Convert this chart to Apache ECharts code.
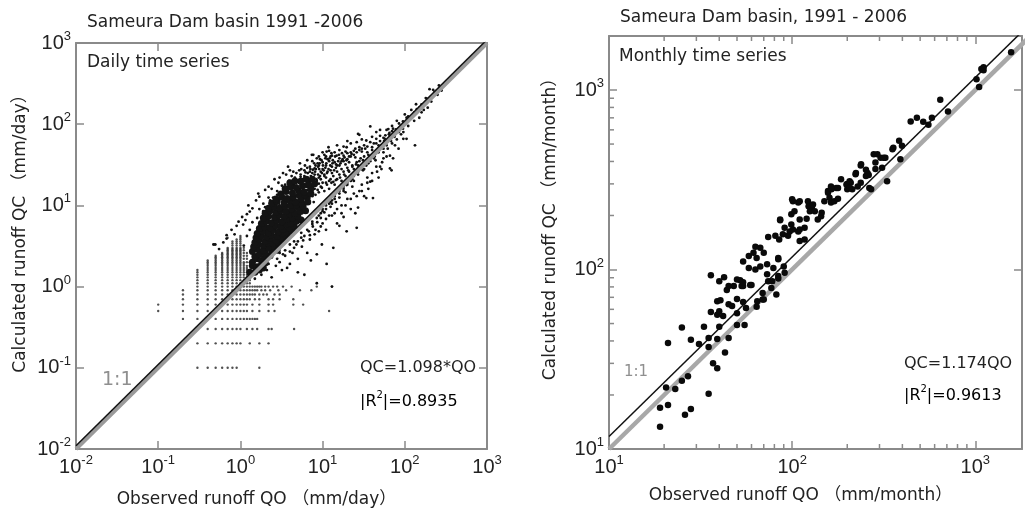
<!DOCTYPE html>
<html>
<head>
<meta charset="utf-8">
<script src="https://cdn.jsdelivr.net/npm/echarts@6/dist/echarts.min.js"></script>
<style>
  html, body { margin: 0; padding: 0; background: #fff; }
  #chart { width: 1025px; height: 513px; }
</style>
</head>
<body>
<div id="chart"></div>
<script>
// ---- daily series (left panel) ----
// quantized low-flow rows: [QC, [QO ...]]
const dailyLowRows = [
  [0.1, [0.3, 0.4, 0.5, 0.6, 0.7, 0.8, 0.9, 1.7]],
  [0.2, [0.3, 0.4, 0.5, 0.6, 0.7, 0.8, 0.9, 1.0, 1.3, 1.7, 2.2]],
  [0.3, [0.3, 0.4, 0.5, 0.6, 0.7, 0.8, 0.9, 1.0, 1.2, 1.4, 1.6, 2.2, 2.4, 4.5]],
  [0.4, [0.2, 0.3, 0.4, 0.5, 0.6, 0.7, 0.8, 0.9, 1.0, 1.1, 1.2, 1.3, 1.4, 1.5, 1.6]],
  [0.5, [0.1, 0.2, 0.3, 0.4, 0.5, 0.6, 0.7, 0.8, 0.9, 1.0, 1.1, 1.2, 1.4, 1.7, 2.2, 2.6, 12]],
  [0.6, [0.1, 0.2, 0.3, 0.4, 0.5, 0.6, 0.7, 0.8, 0.9, 1.0, 1.1, 1.2, 1.4, 1.7, 2.2, 2.5, 4.4, 5.8]],
  [0.7, [0.2, 0.3, 0.4, 0.5, 0.6, 0.7, 0.8, 0.9, 1.0, 1.1, 1.2, 1.3, 1.5, 1.7, 2.2, 2.5, 3.0, 4.4]],
  [0.8, [0.2, 0.3, 0.4, 0.5, 0.6, 0.7, 0.8, 0.9, 1.0, 1.1, 1.2, 1.3, 1.4, 1.5, 1.7, 1.9, 2.1, 2.6, 3.0]],
  [0.9, [0.2, 0.3, 0.4, 0.5, 0.6, 0.7, 0.8, 0.9, 1.0, 1.1, 1.2, 1.3, 1.4, 1.5, 1.6, 1.8, 2.0, 2.3, 2.9, 3.6, 5.3, 7.3]],
  [1.0, [0.3, 0.4, 0.5, 0.6, 0.7, 0.8, 0.9, 1.0, 1.1, 1.2, 1.3, 1.4, 1.5, 1.6, 1.7, 1.8, 2.0, 2.2, 2.5, 2.8, 3.3, 4.2, 8.5, 13]]
];
// quantized columns above QC = 1: [QO, [QC ...]]
const dailyStripes = [
  [0.3, [1.1, 1.2, 1.3, 1.4, 1.5, 1.6]],
  [0.4, [1.1, 1.2, 1.3, 1.4, 1.5, 1.6, 1.7, 1.8, 1.9, 2.0, 2.1]],
  [0.5, [1.1, 1.2, 1.3, 1.4, 1.5, 1.6, 1.7, 1.8, 1.9, 2.0, 2.1, 2.2, 2.3, 2.4, 3.3]],
  [0.6, [1.1, 1.2, 1.3, 1.4, 1.5, 1.6, 1.7, 1.8, 1.9, 2.0, 2.1, 2.2, 2.3, 2.4, 2.5, 2.6]],
  [0.7, [1.1, 1.2, 1.3, 1.4, 1.5, 1.6, 1.7, 1.8, 1.9, 2.0, 2.1, 2.2, 2.3, 2.4, 2.5, 2.6, 2.7, 2.8, 2.9, 3.0, 4.0]],
  [0.8, [1.1, 1.2, 1.3, 1.4, 1.5, 1.6, 1.7, 1.8, 1.9, 2.0, 2.1, 2.2, 2.3, 2.4, 2.5, 2.6, 2.7, 2.8, 2.9, 3.0, 3.2, 3.4, 3.6]],
  [0.9, [1.1, 1.2, 1.3, 1.4, 1.5, 1.6, 1.7, 1.8, 1.9, 2.0, 2.1, 2.2, 2.3, 2.4, 2.5, 2.6, 2.7, 2.8, 2.9, 3.0, 3.2, 3.4, 3.6, 3.8]],
  [1.0, [1.1, 1.2, 1.3, 1.4, 1.5, 1.6, 1.7, 1.8, 1.9, 2.0, 2.1, 2.2, 2.3, 2.4, 2.5, 2.6, 2.7, 2.8, 2.9, 3.0, 3.2, 3.4, 3.6, 3.8, 4.0, 4.2]],
  [1.1, [1.1, 1.2, 1.3, 1.4, 1.5, 1.6, 1.7, 1.8, 1.9, 2.0, 2.2, 2.4, 2.6, 2.8, 3.0]],
  [1.2, [1.1, 1.2, 1.3, 1.4, 1.5, 1.6, 1.7, 1.8, 2.0, 2.2, 2.4, 2.6]],
  [1.3, [1.1, 1.2, 1.3, 1.4, 1.5, 1.6, 1.8, 2.0]]
];
// the near-black core of the daily cloud [QO, QC]
const dailyCore = [
  [1.3, 1.5], [1.5, 1.5], [1.7, 1.6], [1.9, 1.7],
  [1.4, 1.8], [1.6, 1.75], [1.8, 1.85], [2.0, 1.95],
  [1.4, 2.0], [1.6, 2.2], [1.8, 2.1], [2.0, 2.3], [2.3, 2.4],
  [1.5, 2.35], [1.7, 2.5], [2.0, 2.6], [2.4, 2.7], [2.8, 2.8],
  [1.4, 2.7], [1.6, 2.9], [1.9, 2.8], [2.2, 3.0], [2.6, 3.1], [3.0, 3.3],
  [1.45, 3.1], [1.65, 3.3], [1.9, 3.2], [2.2, 3.4], [2.5, 3.4], [2.9, 3.5], [3.3, 3.7],
  [1.5, 3.5], [1.7, 3.8], [2.0, 3.6], [2.3, 3.9], [2.7, 3.7], [3.1, 4.0], [3.6, 4.2],
  [1.55, 4.0], [1.8, 4.2], [2.1, 4.1], [2.4, 4.3], [2.8, 4.2], [3.2, 4.5], [3.7, 4.7], [4.2, 4.9],
  [1.6, 4.5], [1.9, 4.8], [2.2, 4.6], [2.5, 5.0], [2.9, 4.7], [3.3, 5.1], [3.9, 5.3], [4.5, 5.6],
  [1.7, 5.2], [2.0, 5.4], [2.3, 5.3], [2.7, 5.6], [3.1, 5.5], [3.6, 5.9], [4.1, 6.0], [4.8, 6.4], [5.5, 6.6],
  [1.8, 6.0], [2.1, 6.4], [2.4, 6.1], [2.8, 6.5], [3.2, 6.3], [3.7, 6.8], [4.3, 7.0], [5.0, 7.3],
  [1.9, 7.0], [2.2, 7.4], [2.6, 7.2], [3.0, 7.6], [3.4, 7.3], [4.0, 7.9], [4.6, 8.0], [5.4, 8.4], [6.2, 8.6],
  [2.0, 8.0], [2.3, 8.6], [2.7, 8.2], [3.1, 8.8], [3.6, 8.4], [4.2, 9.0], [5.0, 9.4], [5.8, 9.8],
  [2.2, 9.2], [2.6, 9.6], [3.0, 9.3], [3.5, 9.8], [4.1, 10], [4.8, 10.2], [5.6, 10.6], [6.6, 11],
  [2.4, 10.6], [2.8, 11.2], [3.4, 10.7], [4.0, 11.5], [4.7, 11.0], [5.5, 12], [6.5, 12.5],
  [2.7, 12.0], [3.2, 12.6], [3.7, 12.2], [4.4, 12.8], [5.2, 13.2], [6.1, 13.5], [7.2, 14],
  [3.1, 13.8], [3.6, 14.8], [4.3, 14.2], [5.1, 15.2], [6.0, 14.6], [7.2, 16],
  [3.5, 16], [4.1, 17], [4.8, 16.5], [5.7, 17.5], [6.7, 18], [8, 18.5],
  [4.0, 19], [4.6, 20], [5.4, 19.8], [6.3, 21], [7.5, 21]
];
// scattered daily points [QO, QC]
const dailyCloud = [
  [0.47, 3.3], [0.49, 3.3], [0.68, 4.3], [0.68, 3.9], [0.78, 5.0], [0.55, 2.9], [0.62, 3.5], [0.85, 4.4], [0.9, 5.6],
  [1.08, 5.8], [0.95, 6.3], [1.25, 10], [1.05, 7.2], [1.15, 6.6], [1.3, 8.4], [1.2, 7.8], [1.4, 9.2], [1.55, 11.5],
  [1.7, 12.8], [1.9, 10.5], [1.65, 14], [2.0, 15.5], [2.2, 17], [2.4, 16], [2.6, 21], [2.9, 19], [3.0, 22], [3.3, 25],
  [3.2, 17.5], [3.6, 24], [4.0, 27], [4.4, 26], [3.8, 30], [4.8, 25], [5.3, 33], [5.5, 28], [6.1, 31], [6.5, 36],
  [7.4, 42], [7.7, 42], [8.5, 38], [9.2, 33], [10, 45], [11.2, 46], [11.8, 52], [12.5, 40], [14.8, 41], [15, 55],
  [16, 48], [18, 53], [19.6, 52], [20, 62], [22, 58], [26, 60], [27, 76], [28, 74], [30, 65], [33, 50], [34, 63],
  [38, 94], [40, 70], [45, 80], [50, 85], [60, 85], [58, 73], [63, 87], [70, 95], [80, 110], [100, 132], [105, 120],
  [120, 150], [137, 176], [140, 153], [150, 160], [180, 210], [200, 270], [221, 265], [240, 255], [260, 300], [270, 280],
  [4.5, 14], [5.0, 16], [5.5, 19], [6.0, 18], [6.6, 22], [7.0, 20], [7.5, 25], [8.0, 24], [8.3, 28], [9.0, 22],
  [9.5, 26], [10, 28], [10.5, 24], [11, 31], [12, 35], [12.5, 27], [13, 30], [14, 34], [15, 31], [16, 38], [17, 35],
  [18, 41], [20, 44], [22, 40], [24, 47], [25, 39], [28, 52], [30, 46], [32, 55], [35, 53], [38, 60], [42, 58],
  [45, 66], [50, 72], [55, 68], [65, 78], [72, 88], [85, 102], [95, 108], [110, 125], [130, 140], [160, 175],
  [190, 205], [230, 250], [5.2, 11], [6.2, 13], [7.2, 15], [8.2, 13.5], [9.5, 17], [11, 19], [12.5, 21], [14, 18],
  [16, 24], [18, 26], [20, 29], [23, 31], [26, 34], [29, 38], [6.8, 12], [5.8, 9.5], [7.8, 11], [9, 14.5], [10.5, 15],
  [12, 16], [13.5, 19.5], [15, 21], [17, 20], [19, 23], [21, 26], [24, 28], [27, 31], [31, 36], [36, 42], [40, 48],
  [48, 55], [56, 62], [66, 72], [78, 86], [90, 96], [3.5, 12], [4.2, 16], [3.9, 20], [4.6, 22], [5.4, 24], [6.0, 27],
  [7.0, 30], [7.9, 33], [8.8, 30], [3.2, 14], [2.8, 15], [2.5, 12.5], [3.0, 10], [2.3, 11.5], [1.9, 8.5],
  [5.5, 13], [6.5, 15.5], [7.5, 17.5], [8.5, 20], [9.5, 21], [10.5, 23], [11.5, 26], [13, 25], [14.5, 29], [16, 31],
  [18, 35], [20, 37], [22, 45], [25, 50], [8, 16], [9, 18.5], [10, 19], [11, 22], [12, 20], [13.5, 23], [15, 26],
  [17, 28], [19, 32], [21, 34], [6, 23], [7, 26], [8, 28.5], [9, 31], [10, 34], [11.5, 37], [13, 41], [14, 45],
  [5, 20], [4.5, 18], [3.8, 17], [4.2, 23], [5.2, 27], [6.5, 29], [7.5, 35], [9, 40], [10.5, 42], [12, 47],
  [3.5, 18], [2.8, 13.5], [2.2, 12.5], [2.0, 9.5], [1.7, 9], [1.6, 7], [1.4, 6.2], [1.3, 5], [1.2, 4.2], [1.1, 3.2],
  [5.8, 16], [6.3, 17], [6.9, 19], [7.3, 18], [7.8, 22], [8.4, 21], [8.8, 24], [9.3, 23], [9.8, 25], [10.3, 27],
  [10.8, 29], [11.3, 25], [11.8, 28], [12.4, 31], [13.2, 33], [13.8, 27], [14.6, 32], [15.5, 35], [16.5, 33],
  [17.5, 37], [18.5, 39], [19.5, 36], [21, 40], [22.5, 43], [24, 42], [26, 45], [28, 48], [30, 50], [6.2, 20],
  [7.2, 23], [8.1, 26], [9.1, 28], [10.1, 31], [11.1, 33], [12.2, 38], [13.3, 36], [14.2, 40], [15.8, 42],
  [17.2, 44], [19, 46], [5.6, 21], [6.6, 25], [7.6, 27.5], [8.7, 33], [9.7, 36], [11, 40], [12.8, 44], [4.8, 17.5],
  [5.4, 22.5], [6.2, 25.5], [7.1, 28], [8.2, 31], [9.3, 37], [10.8, 38], [7.5, 13], [8.7, 15.5], [9.8, 16.5],
  [11.3, 18], [12.8, 19], [14.5, 20.5], [16.3, 22], [18.3, 24], [20.5, 27], [23, 30], [25.5, 32], [28, 35], [32, 40],
  [35, 45], [40, 52], [45, 58], [50, 62], [57, 66], [64, 75], [70, 82],
  [1.5, 1.25], [1.8, 1.4], [2.1, 1.6], [2.4, 1.3], [2.7, 1.8], [3.0, 2.0], [3.2, 1.6], [3.7, 1.7], [3.5, 2.4],
  [4.0, 1.9], [4.3, 2.6], [4.5, 3.0], [5.0, 2.2], [5.0, 3.6], [5.6, 3.1], [6.0, 4.2], [6.5, 2.6], [6.8, 4.8],
  [7.0, 3.8], [7.6, 5.5], [8.0, 4.4], [8.5, 2.5], [8.6, 6.2], [9.0, 4.8], [9.5, 7.0], [10, 6.0], [10.5, 8.2],
  [11, 5.0], [11.2, 1.9], [12, 7.5], [12.5, 9.6], [13.5, 3.0], [14, 8.0], [14.5, 11], [15, 6.0], [16, 12.5],
  [17, 10], [18, 7.2], [19, 14.5], [19.6, 4.8], [19.6, 17.8], [20, 12], [22, 9.0], [23, 17], [24, 14], [26, 5.3],
  [27, 9.4], [28, 15], [30, 18], [32, 13], [34, 12.3], [35, 22], [38, 19.6], [40, 25], [41, 12.3], [44, 36], [45, 30],
  [48, 22], [53, 34], [55, 38], [55, 45], [60, 40], [66, 28.5], [66, 41], [69, 27], [70, 58], [72, 38], [76, 55],
  [80, 65], [84, 50], [90, 75], [96, 66], [96, 80], [105, 66], [110, 95], [130, 110], [133, 55], [150, 120],
  [170, 150], [190, 160], [8.5, 1.1], [13, 1.0], [6.0, 1.4], [5.0, 1.5], [7.2, 2.1], [9.8, 3.3], [16, 5.6], [25, 8],
  [36, 16], [50, 30], [62, 50], [42, 38], [32, 28], [24, 20], [18, 15], [13, 10.5], [10, 8.5], [7.5, 6.3], [5.5, 4.6],
  [4.0, 3.3], [3.0, 2.6], [2.2, 1.9], [11.5, 12], [15.5, 16], [21, 22], [29, 30], [38, 40], [52, 55], [75, 77],
  [100, 105], [140, 145], [200, 205], [260, 270], [300, 310], [280, 260], [250, 230], [210, 190], [160, 140],
  [3.5, 2.8], [4.5, 3.6], [5.5, 4], [6.5, 5], [7.5, 5.9], [8.5, 7], [9.5, 8], [11, 9], [12.5, 11], [14, 12],
  [16, 14], [18, 16], [20, 18], [23, 21], [27, 24], [31, 27], [36, 33], [2.8, 2.2], [3.3, 2.5], [4.0, 2.7],
  [4.8, 3.3], [5.8, 3.7], [7.0, 4.3], [8.2, 5], [9.5, 5.5], [11, 6.8], [13, 7.5], [15, 9], [17, 8], [19, 10],
  [22, 12], [26, 13], [30, 15], [35, 19], [40, 20], [46, 26], [52, 28],
  [9, 7.5], [10, 9], [11, 10], [12, 10.5], [13, 11.5], [14, 13], [16, 15], [18, 17], [20, 19], [22, 20], [24, 23],
  [27, 26], [30, 28], [34, 31], [38, 35], [43, 40], [48, 45], [55, 50], [60, 55], [68, 62], [75, 70], [85, 80], [95, 88]
];
const dailyOneToOne = [[0.01, 0.01], [1000, 1000]];
const dailyFitLine = [[0.01, 0.01098], [1000, 1098]];

// ---- monthly series (right panel) [QO, QC] ----
const monthlyPoints = [
  [19, 13.3], [19, 17], [21, 17.6], [26, 15.5], [28, 16.7], [20.5, 22], [23, 21.6], [25, 24], [27, 25.4], [35, 20.3],
  [37, 30], [39, 28.2], [21, 39], [25, 47.6], [28, 40.6], [31, 38.5], [35, 37], [33, 48], [35, 41.5], [39, 41],
  [43, 34.5], [45, 41.5], [40, 48], [36, 58], [39, 56], [40, 58.5], [42, 55], [39, 66.5], [40.6, 67.5], [44, 77],
  [40, 86], [45, 64], [47, 62.7], [50, 68.6], [50, 57], [50, 49], [55, 49], [54, 66], [56, 61], [54, 81], [48, 81],
  [52, 87], [60, 82], [64, 62], [64.5, 66.5], [69, 68], [69, 74], [74, 86], [77, 79], [36, 93], [42.5, 90.6],
  [45, 81], [50, 88], [53, 81], [59, 82], [54, 85], [54, 111], [58, 119], [61.5, 124], [64, 116], [67, 132],
  [63, 134], [58, 102], [63, 100], [67, 104], [73, 107], [79, 102], [73, 94], [84, 92], [91, 96], [84, 89], [78, 86],
  [82, 72.5], [70, 68], [84, 114], [90, 104], [70, 124], [84, 116], [74, 152], [81, 154], [85, 147], [89, 157],
  [95, 154], [86, 190], [91, 171], [99, 178], [97, 163], [101, 167], [108, 163], [110, 144], [99, 203], [103, 211],
  [110, 190], [117, 171], [101, 240], [108, 236], [122, 240], [123, 225], [128, 222], [130, 230], [125, 211],
  [133, 211], [120, 192], [138, 190], [144, 198], [150, 240], [163, 236], [157, 274], [163, 290], [174, 285],
  [170, 240], [185, 318], [200, 300], [209, 304], [200, 280], [213, 280], [228, 290], [237, 304], [222, 339],
  [237, 380], [253, 360], [262, 336], [279, 439], [100, 246], [110, 240], [86, 188], [117, 147], [110, 167],
  [145, 207], [157, 268], [164, 280], [160, 251], [178, 248], [178, 285], [198, 298], [206, 310], [206, 285],
  [223, 345], [238, 386], [253, 332], [264, 285], [270, 280], [285, 395], [304, 420], [310, 369], [285, 363],
  [323, 420], [353, 468], [384, 521], [390, 412], [330, 310], [398, 490], [444, 668], [480, 700], [520, 665],
  [580, 700], [555, 640], [644, 883], [710, 760], [1016, 1150], [1050, 1040], [1080, 1310], [1110, 1290],
  [1110, 1340], [1570, 1625], [292, 439], [316, 420], [258, 345], [357, 477]
];
const monthlyOneToOne = [[10, 10], [2000, 2000]];
const monthlyFitLine = [[10, 11.74], [2000, 2348]];
const monthlyMinorTicks = [20, 30, 40, 50, 60, 70, 80, 90, 200, 300, 400, 500, 600, 700, 800, 900];

const dailyRange = [0.01, 1000];
const monthlyXRange = [10, 1800];
const monthlyYRange = [10, 2000];

// ---- build point lists ----
const dailyGridPts = [];
dailyLowRows.forEach(function (r) { r[1].forEach(function (x) { dailyGridPts.push([x, r[0]]); }); });
dailyStripes.forEach(function (c) { c[1].forEach(function (y) { dailyGridPts.push([c[0], y]); }); });

const TXT = 'DejaVu Sans, "Noto Sans CJK JP", sans-serif';
const AXIS_GREY = '#8a8a8a';

function powLabel(v) {
  const e = Math.log10(v);
  if (Math.abs(e - Math.round(e)) > 1e-6) return '';
  return '{b|10}{s|' + Math.round(e) + '}';
}
const powRich = {
  b: { fontSize: 20, fontFamily: 'Liberation Sans', color: '#222', lineHeight: 26 },
  s: { fontSize: 13, fontFamily: 'Liberation Sans', color: '#222', verticalAlign: 'top', lineHeight: 12 }
};
const eqRich = {
  n: { fontSize: 16, fontFamily: 'DejaVu Sans', color: '#222', lineHeight: 24 },
  s: { fontSize: 10, fontFamily: 'DejaVu Sans', color: '#222', verticalAlign: 'top', lineHeight: 10 }
};

function logAxis(range, gridIndex, position, opts) {
  opts = opts || {};
  return {
    type: 'log', logBase: 10, gridIndex: gridIndex, position: position,
    min: range[0], max: range[1],
    splitLine: { show: false },
    axisLine: { show: true, onZero: false, lineStyle: { color: AXIS_GREY, width: 2 } },
    axisTick: { show: true, inside: true, length: 8, lineStyle: { color: AXIS_GREY, width: 1.5 } },
    axisLabel: opts.labels ? { show: true, formatter: powLabel, rich: powRich, margin: 5 } : { show: false },
    name: opts.name || '', nameLocation: 'middle', nameGap: opts.nameGap || 0,
    nameTextStyle: { fontFamily: TXT, fontSize: 17, color: '#222', padding: opts.namePad || 0 }
  };
}

const chart = echarts.init(document.getElementById('chart'), null, { renderer: 'canvas' });

function tickSeries(data, xi, yi, size, offset) {
  return {
    type: 'scatter', xAxisIndex: xi, yAxisIndex: yi, data: data, symbol: 'rect',
    symbolSize: size, symbolOffset: offset, clip: false, silent: true,
    itemStyle: { color: AXIS_GREY, opacity: 1 }, z: 3
  };
}

const minorBottom = monthlyMinorTicks.map(function (v) { return [v, monthlyYRange[0]]; });
const minorTop = monthlyMinorTicks.map(function (v) { return [v, monthlyYRange[1]]; });
const minorLeft = monthlyMinorTicks.map(function (v) { return [monthlyXRange[0], v]; });

chart.setOption({
  animation: false,
  grid: [
    { left: 76, top: 43, width: 411, height: 411 },
    { left: 609, top: 36, width: 418, height: 413 }
  ],
  xAxis: [
    logAxis(dailyRange, 0, 'bottom', { labels: true, name: 'Observed runoff QO （mm/day）', nameGap: 42, namePad: [0, 50, 0, 0] }),
    logAxis(dailyRange, 0, 'top'),
    logAxis(monthlyXRange, 1, 'bottom', { labels: true, name: 'Observed runoff QO （mm/month）', nameGap: 38, namePad: [0, 30, 0, 0] }),
    logAxis(monthlyXRange, 1, 'top')
  ],
  yAxis: [
    logAxis(dailyRange, 0, 'left', { labels: true, name: 'Calculated runoff QC （mm/day）', nameGap: 47, namePad: [0, 0, 0, 33] }),
    logAxis(dailyRange, 0, 'right'),
    logAxis(monthlyYRange, 1, 'left', { labels: true, name: 'Calculated runoff QC （mm/month）', nameGap: 50, namePad: [0, 0, 0, 35] }),
    logAxis(monthlyYRange, 1, 'right')
  ],
  series: [
    { type: 'scatter', xAxisIndex: 0, yAxisIndex: 0, data: dailyGridPts, symbol: 'circle', symbolSize: 2.4,
      itemStyle: { color: '#333', opacity: 0.85 }, silent: true },
    { type: 'scatter', xAxisIndex: 0, yAxisIndex: 0, data: dailyCloud, symbol: 'circle', symbolSize: 2.8,
      itemStyle: { color: '#111', opacity: 1 }, silent: true },
    { type: 'scatter', xAxisIndex: 0, yAxisIndex: 0, data: dailyCore, symbol: 'circle', symbolSize: 7,
      itemStyle: { color: '#141414', opacity: 1 }, silent: true },
    { type: 'line', xAxisIndex: 0, yAxisIndex: 0, data: dailyOneToOne, symbol: 'none', clip: true,
      lineStyle: { color: '#9a9a9a', width: 4 }, z: 4 },
    { type: 'line', xAxisIndex: 0, yAxisIndex: 0, data: dailyFitLine, symbol: 'none', clip: true,
      lineStyle: { color: '#111', width: 1.5 }, z: 5 },

    { type: 'line', xAxisIndex: 2, yAxisIndex: 2, data: monthlyOneToOne, symbol: 'none', clip: true,
      lineStyle: { color: '#a8a8a8', width: 4.5 }, z: 2 },
    { type: 'line', xAxisIndex: 2, yAxisIndex: 2, data: monthlyFitLine, symbol: 'none', clip: true,
      lineStyle: { color: '#111', width: 1.5 }, z: 2 },
    { type: 'scatter', xAxisIndex: 2, yAxisIndex: 2, data: monthlyPoints, symbol: 'circle', symbolSize: 6.5,
      itemStyle: { color: '#0a0a0a', opacity: 1 }, silent: true, z: 3 },
    tickSeries(minorBottom, 2, 2, [1.5, 5], [0, -2.5]),
    tickSeries(minorTop, 2, 2, [1.5, 5], [0, 2.5]),
    tickSeries(minorLeft, 2, 2, [5, 1.5], [2.5, 0])
  ],
  graphic: [
    { type: 'text', left: 87, top: 14, style: { text: 'Sameura Dam basin 1991 -2006', font: '17px ' + TXT, fill: '#222' } },
    { type: 'text', left: 87, top: 54, style: { text: 'Daily time series', font: '17px ' + TXT, fill: '#222' } },
    { type: 'text', left: 102, top: 371, style: { text: '1:1', font: '19px ' + TXT, fill: '#8f8f8f' } },
    { type: 'text', left: 360, top: 360, style: { text: 'QC=1.098*QO', font: '16px ' + TXT, fill: '#222' } },
    { type: 'text', left: 360, top: 390, style: { text: '{n||R}{s|2}{n||=0.8935}', rich: eqRich } },

    { type: 'text', left: 620, top: 9, style: { text: 'Sameura Dam basin, 1991 - 2006', font: '17px ' + TXT, fill: '#222' } },
    { type: 'text', left: 619, top: 48, style: { text: 'Monthly time series', font: '17px ' + TXT, fill: '#222' } },
    { type: 'text', left: 624, top: 365, style: { text: '1:1', font: '15px ' + TXT, fill: '#8f8f8f' } },
    { type: 'text', left: 904, top: 356, style: { text: 'QC=1.174QO', font: '16px ' + TXT, fill: '#222' } },
    { type: 'text', left: 904, top: 384, style: { text: '{n||R}{s|2}{n||=0.9613}', rich: eqRich } }
  ]
});
</script>
</body>
</html>
